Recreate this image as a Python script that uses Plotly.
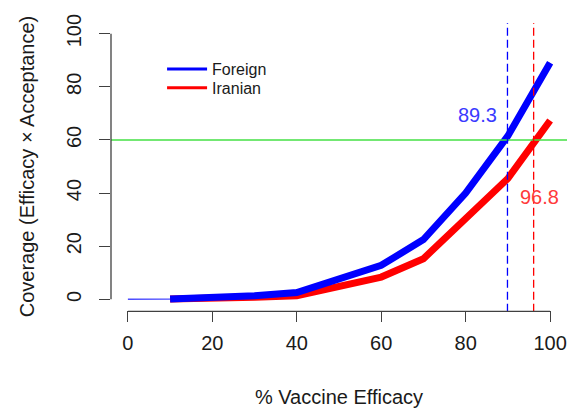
import plotly.graph_objects as go

# Data
efficacy = [0, 10, 20, 30, 40, 50, 60, 70, 80, 90, 100]
foreign = [0, 0.1, 0.6, 1.4, 2.6, 7.5, 12.8, 22.5, 40.0, 61.5, 89.0]
iranian = [0, 0.1, 0.3, 0.8, 1.4, 4.6, 8.4, 15.3, 30.0, 45.5, 67.3]
threshold = 60
foreign_cross = 89.9
iranian_cross = 96.1
foreign_label = "89.3"
iranian_label = "96.8"
ticks = [0, 20, 40, 60, 80, 100]

FONT = "Liberation Sans"
AXC = "#404040"
BLUE = "#0000ff"
RED = "#ff0000"

fig = go.Figure()

# thin full foreign series (visible from 0 to 10)
fig.add_trace(go.Scatter(x=efficacy, y=foreign, mode="lines",
                         line=dict(color="#4d4dff", width=1.5), showlegend=False,
                         hoverinfo="skip"))
fig.add_trace(go.Scatter(x=efficacy[1:], y=iranian[1:], mode="lines",
                         line=dict(color=RED, width=7), showlegend=False))
fig.add_trace(go.Scatter(x=efficacy[1:], y=foreign[1:], mode="lines",
                         line=dict(color=BLUE, width=7), showlegend=False))
# legend entries
fig.add_trace(go.Scatter(x=[None], y=[None], mode="lines", name="Foreign",
                         line=dict(color=BLUE, width=3), legend="legend"))
fig.add_trace(go.Scatter(x=[None], y=[None], mode="lines", name="Iranian",
                         line=dict(color=RED, width=3), legend="legend2"))

# reference lines
fig.add_shape(type="line", xref="paper", x0=0, x1=1, yref="y", y0=threshold, y1=threshold,
              line=dict(color="#44e044", width=1.5))
fig.add_shape(type="line", xref="x", x0=foreign_cross, x1=foreign_cross, yref="paper", y0=-0.006, y1=1,
              line=dict(color=BLUE, width=1.3, dash="8px,4px"))
fig.add_shape(type="line", xref="x", x0=iranian_cross, x1=iranian_cross, yref="paper", y0=-0.006, y1=1,
              line=dict(color=RED, width=1.3, dash="8px,4px"))

# axis lines (R style: span first to last tick)
fig.add_shape(type="line", xref="paper", x0=0, x1=0, yref="y", y0=ticks[0], y1=ticks[-1],
              line=dict(color=AXC, width=1.3))
fig.add_shape(type="line", xref="x", x0=ticks[0], x1=ticks[-1], yref="paper", y0=-0.005, y1=-0.005,
              line=dict(color=AXC, width=1.3))

fig.add_annotation(x=82.7, y=69.2, text=foreign_label, showarrow=False,
                   font=dict(family=FONT, size=20, color="#3a3aff"))
fig.add_annotation(x=97.6, y=38.5, text=iranian_label, showarrow=False,
                   font=dict(family=FONT, size=20, color="#ff3a3a"))

leg_common = dict(xanchor="left", yanchor="top", bgcolor="rgba(0,0,0,0)",
                  font=dict(family=FONT, size=16, color="#1a1a1a"), itemwidth=40)
fig.update_layout(
    width=568, height=412,
    margin=dict(l=111, r=1, t=23, b=102),
    paper_bgcolor="white", plot_bgcolor="white",
    font=dict(family=FONT, size=20, color="#1a1a1a"),
    legend=dict(x=0.112, y=0.899, **leg_common),
    legend2=dict(x=0.112, y=0.833, **leg_common),
)
fig.update_xaxes(range=[-4, 104], tickvals=ticks, showgrid=False, zeroline=False,
                 showline=False, ticks="outside", ticklen=11, tickcolor=AXC, tickwidth=1.3,
                 ticklabelstandoff=4, tickfont=dict(family=FONT, size=20),
                 title=dict(text="% Vaccine Efficacy", standoff=36,
                            font=dict(family=FONT, size=20)))
fig.update_yaxes(range=[-4, 104], tickvals=ticks, showgrid=False, zeroline=False,
                 showline=False, ticks="outside", ticklen=11, tickcolor=AXC, tickwidth=1.3,
                 tickangle=-90, ticklabelstandoff=10, tickfont=dict(family=FONT, size=20),
                 title=dict(text="Coverage (Efficacy × Acceptance)", standoff=23,
                            font=dict(family=FONT, size=20)))

fig.write_html("out.html")
